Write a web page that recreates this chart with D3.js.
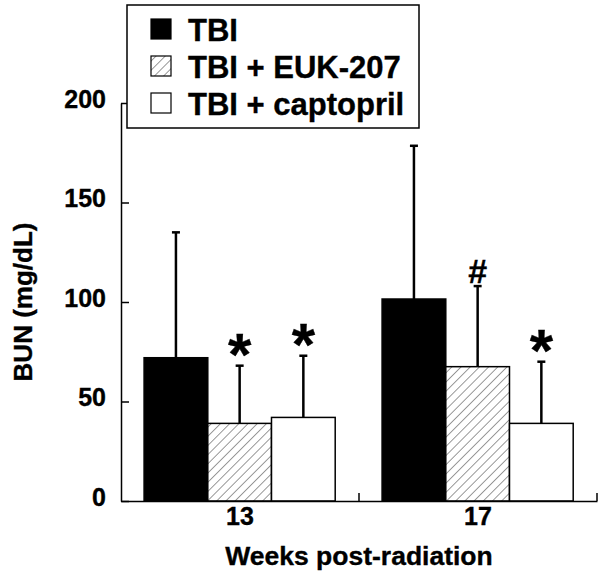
<!DOCTYPE html>
<html>
<head>
<meta charset="utf-8">
<script src="https://cdn.jsdelivr.net/npm/d3@7"></script>
<style>
  html, body { margin: 0; padding: 0; background: #fff; }
  svg { display: block; font-family: "Liberation Sans", Arial, sans-serif; font-weight: bold; }
  text { stroke: #000; stroke-width: 0.35px; }
</style>
</head>
<body>
<svg id="chart" width="602" height="576"></svg>
<script>
// ---- data ----
const weeks = ["13", "17"];
const seriesNames = ["TBI", "TBI + EUK-207", "TBI + captopril"];
const meanTBI = [72, 101.5];
const meanEUK = [39, 67.5];
const meanCaptopril = [42, 39];
const sdTBI = [63, 77];
const sdEUK = [29, 40.5];
const sdCaptopril = [31, 31];
const markTBI = ["", ""];
const markEUK = ["*", "#"];
const markCaptopril = ["*", "*"];
const yTicks = [0, 50, 100, 150, 200];

const means = [meanTBI, meanEUK, meanCaptopril];
const sds = [sdTBI, sdEUK, sdCaptopril];
const marks = [markTBI, markEUK, markCaptopril];

const rows = [];
weeks.forEach((w, wi) => {
  seriesNames.forEach((s, si) => {
    rows.push({ week: w, series: s, si, mean: means[si][wi], sd: sds[si][wi], mark: marks[si][wi] });
  });
});

const svg = d3.select("#chart");
const mLeft = 121, mRight = 597, mTop = 103, mBottom = 501;

const y = d3.scaleLinear().domain([0, 200]).range([mBottom, mTop]);
const x0 = d3.scaleBand().domain(weeks).range([mLeft, mRight]).padding(0);
const bw = x0.bandwidth();
const x1 = d3.scaleBand().domain(seriesNames).range([bw * 0.097, bw * 0.9]).padding(0);

// hatch pattern
const defs = svg.append("defs");
const hp = 6.5;
const pat = defs.append("pattern")
  .attr("id", "hatch").attr("patternUnits", "userSpaceOnUse")
  .attr("width", hp).attr("height", hp)
  .attr("patternTransform", "rotate(45)");
pat.append("rect").attr("width", hp).attr("height", hp).attr("fill", "#fff");
pat.append("line").attr("x1", 0).attr("y1", 0).attr("x2", 0).attr("y2", hp)
  .attr("stroke", "#333").attr("stroke-width", 1.0);

const fills = ["#000", "url(#hatch)", "#fff"];

// bars
const g = svg.append("g");
g.selectAll("rect.bar").data(rows).join("rect")
  .attr("class", "bar")
  .attr("x", d => x0(d.week) + x1(d.series))
  .attr("y", d => y(d.mean))
  .attr("width", x1.bandwidth())
  .attr("height", d => y(0) - y(d.mean))
  .attr("fill", d => fills[d.si])
  .attr("stroke", "#000").attr("stroke-width", 1.5);

// error bars (upper only)
const cx = d => x0(d.week) + x1(d.series) + x1.bandwidth() / 2;
g.selectAll("line.err").data(rows).join("line")
  .attr("class", "err")
  .attr("x1", cx).attr("x2", cx)
  .attr("y1", d => y(d.mean)).attr("y2", d => y(d.mean + d.sd))
  .attr("stroke", "#000").attr("stroke-width", 2.5);
g.selectAll("line.cap").data(rows).join("line")
  .attr("class", "cap")
  .attr("x1", d => cx(d) - 4).attr("x2", d => cx(d) + 4)
  .attr("y1", d => y(d.mean + d.sd)).attr("y2", d => y(d.mean + d.sd))
  .attr("stroke", "#000").attr("stroke-width", 2.5);

// significance marks
g.selectAll("text.mark").data(rows.filter(d => d.mark)).join("text")
  .attr("class", "mark")
  .attr("x", cx)
  .attr("y", d => y(d.mean + d.sd) + (d.mark === "*" ? 9 : -3))
  .attr("text-anchor", "middle")
  .attr("font-size", d => d.mark === "*" ? 60 : 34)
  .attr("stroke-width", d => d.mark === "*" ? 0.5 : 1.4)
  .attr("fill", "#000")
  .text(d => d.mark);

// y axis
const yAxis = d3.axisLeft(y).tickValues(yTicks).tickSizeInner(-8).tickSizeOuter(0).tickPadding(15);
const ya = svg.append("g").attr("transform", `translate(${mLeft},0)`).call(yAxis);
ya.selectAll("path, line").attr("stroke", "#000").attr("stroke-width", 1.5);
ya.selectAll("text").attr("font-size", 25).attr("font-weight", "bold")
  .attr("font-family", "'Liberation Sans', Arial, sans-serif").attr("fill", "#000").attr("dy", "0.16em");

// x axis
const xAxis = d3.axisBottom(x0).tickSize(0).tickPadding(6);
const xa = svg.append("g").attr("transform", `translate(0,${mBottom})`).call(xAxis);
xa.select("path").attr("stroke", "#000").attr("stroke-width", 1.5);
xa.selectAll("text").attr("font-size", 25).attr("font-weight", "bold")
  .attr("font-family", "'Liberation Sans', Arial, sans-serif").attr("fill", "#000").attr("dy", "0.71em");
// group separators
xa.selectAll("line.sep").data(weeks).join("line")
  .attr("class", "sep")
  .attr("x1", d => x0(d) + bw).attr("x2", d => x0(d) + bw)
  .attr("y1", 0).attr("y2", -8)
  .attr("stroke", "#000").attr("stroke-width", 1.5);

// axis titles
svg.append("text")
  .attr("x", (mLeft + mRight) / 2).attr("y", 565)
  .attr("text-anchor", "middle").attr("font-size", 26.5)
  .text("Weeks post-radiation");
svg.append("text")
  .attr("transform", "translate(32,302) rotate(-90)")
  .attr("text-anchor", "middle").attr("font-size", 26)
  .text("BUN (mg/dL)");

// legend
const lg = svg.append("g");
lg.append("rect").attr("x", 127).attr("y", 5).attr("width", 292).attr("height", 123)
  .attr("fill", "#fff").attr("stroke", "#000").attr("stroke-width", 1.5);
const legY = [19, 56, 93];
seriesNames.forEach((s, i) => {
  lg.append("rect").attr("x", 151).attr("y", legY[i]).attr("width", 20).attr("height", 20)
    .attr("fill", fills[i]).attr("stroke", "#000").attr("stroke-width", 1.2);
  lg.append("text").attr("x", 188).attr("y", legY[i] + 22)
    .attr("font-size", 31).text(s);
});
</script>
</body>
</html>
